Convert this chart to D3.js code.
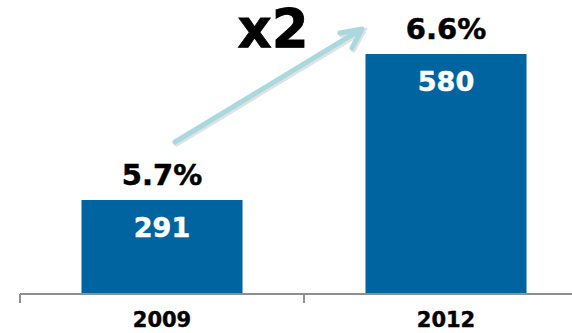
<!DOCTYPE html>
<html>
<head>
<meta charset="utf-8">
<script src="https://cdn.jsdelivr.net/npm/d3@7"></script>
<style>
  html, body { margin: 0; padding: 0; background: #fff; }
  svg { display: block; }
  text { font-family: "DejaVu Sans", Verdana, sans-serif; font-weight: bold; }
</style>
</head>
<body>
<svg id="chart" width="572" height="333"></svg>
<script>
// Categories and values
const years = ["2009", "2012"];
const totals = [291, 580];
const shares = ["5.7%", "6.6%"];
const growthLabel = "x2";

const svg = d3.select("#chart");
const baseY = 294;

const x = d3.scaleBand()
  .domain(years)
  .range([20, 588])
  .paddingInner(0.433)
  .paddingOuter(0.2165);

const y = d3.scaleLinear()
  .domain([105, 580])
  .range([baseY, 54]);

const barColor = "#0064a0";

// Bars
svg.selectAll("rect.bar")
  .data(years)
  .join("rect")
  .attr("class", "bar")
  .attr("x", d => x(d))
  .attr("width", x.bandwidth())
  .attr("y", (d, i) => y(totals[i]))
  .attr("height", (d, i) => baseY - y(totals[i]))
  .attr("fill", barColor);

// Values inside bars
svg.selectAll("text.val")
  .data(years)
  .join("text")
  .attr("class", "val")
  .attr("x", d => x(d) + x.bandwidth() / 2)
  .attr("y", (d, i) => y(totals[i]) + 37)
  .attr("text-anchor", "middle")
  .attr("font-size", 27)
  .attr("fill", "#fff")
  .attr("stroke", "#fff").attr("stroke-width", 0.5)
  .text((d, i) => totals[i]);

// Share labels above bars
svg.selectAll("text.share")
  .data(years)
  .join("text")
  .attr("class", "share")
  .attr("x", d => x(d) + x.bandwidth() / 2)
  .attr("y", (d, i) => y(totals[i]) - 15)
  .attr("text-anchor", "middle")
  .attr("font-size", 29)
  .attr("fill", "#000")
  .attr("stroke", "#000").attr("stroke-width", 0.5)
  .text((d, i) => shares[i]);

// Category axis
const axis = svg.append("g")
  .attr("transform", `translate(0,${baseY})`)
  .call(d3.axisBottom(x).tickSize(0).tickPadding(24));
axis.select(".domain").remove();
axis.selectAll("text")
  .attr("font-size", 21)
  .attr("fill", "#000")
  .attr("stroke", "#000").attr("stroke-width", 0.4)
  .attr("font-family", "DejaVu Sans, Verdana, sans-serif")
  .attr("font-weight", "bold")
  .attr("dy", "0.45em");

svg.append("line")
  .attr("x1", x.range()[0]).attr("x2", 572)
  .attr("y1", baseY).attr("y2", baseY)
  .attr("stroke", "#8f8f8f").attr("stroke-width", 2);

// Boundary ticks between categories
const bounds = [x.range()[0], x(years[1]) - x.step() * x.paddingInner() / 2];
svg.selectAll("line.tick")
  .data(bounds)
  .join("line")
  .attr("class", "tick")
  .attr("x1", d => d).attr("x2", d => d)
  .attr("y1", baseY).attr("y2", baseY + 9)
  .attr("stroke", "#8f8f8f").attr("stroke-width", 2);

// Growth arrow annotation
const arrowColor = "#a9d9df";
const start = [175, 142], tip = [362, 29];
const armA = [340, 33], armB = [352, 48];

const shadow = svg.append("g").attr("transform", "translate(1.5,2)")
  .attr("stroke", "#cfcfcf").attr("stroke-width", 5).attr("fill", "none")
  .attr("stroke-linecap", "round").attr("opacity", 0.6);
shadow.append("line").attr("x1", start[0]).attr("y1", start[1]).attr("x2", tip[0]).attr("y2", tip[1]);
shadow.append("polyline").attr("points", [armA, tip, armB].map(p => p.join(",")).join(" "));

const arrow = svg.append("g")
  .attr("stroke", arrowColor).attr("stroke-width", 5).attr("fill", "none")
  .attr("stroke-linecap", "round").attr("stroke-linejoin", "round");
arrow.append("line").attr("x1", start[0]).attr("y1", start[1]).attr("x2", tip[0] - 2).attr("y2", tip[1] + 1);
arrow.append("polyline").attr("points", [armA, tip, armB].map(p => p.join(",")).join(" "));

svg.append("text")
  .attr("x", 273)
  .attr("y", 47)
  .attr("text-anchor", "middle")
  .attr("font-size", 53)
  .attr("fill", "#000")
  .attr("stroke", "#000").attr("stroke-width", 0.8)
  .text(growthLabel);
</script>
</body>
</html>
